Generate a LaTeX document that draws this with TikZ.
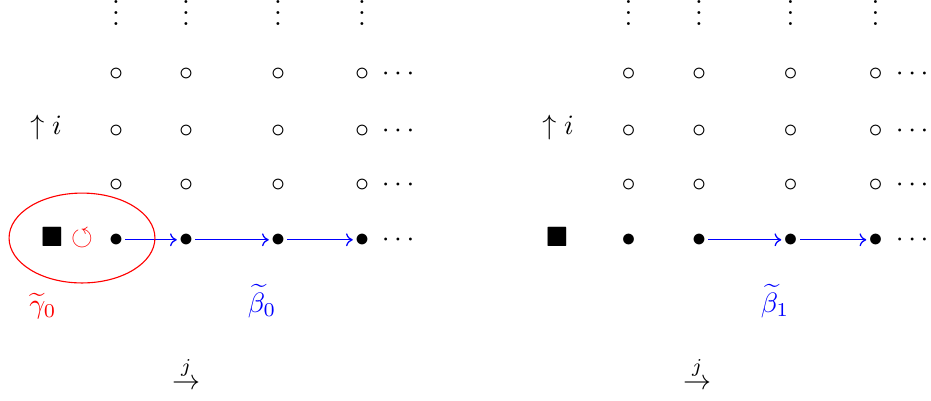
\documentclass[tikz,border=0pt]{standalone}
\usepackage{amsmath,amssymb}
\usetikzlibrary{shapes.geometric,arrows.meta}
\begin{document}
\begin{tikzpicture}[x=0.35714pt,y=-0.35714pt,
  ax/.style={anchor=base,yshift=-2.5pt,inner sep=0.6pt},
  vd/.style={anchor=base,inner sep=0pt},
  lbl/.style={inner sep=0pt},
  arr/.style={blue,-{To[length=2.4pt,width=4.6pt]},line width=0.45pt}]
\useasboundingbox (0,0) rectangle (931,400);
% ---------- left panel ----------
\foreach \c/\x in {1/116,2/186,3/278,4/362}{
  \node[vd] (L-v\c) at (\x,25.8) {$\vdots$};
  \foreach \r/\y in {1/73,2/130,3/184}
    \node[ax] (L-\r-\c) at (\x,\y) {$\circ$};
}
\foreach \r/\y in {1/73,2/130,3/184}
  \node[ax] (L-\r-d) at (400.5,\y) {$\cdots$};
\node[lbl,anchor=base] (L-i) at (46,134) {$\uparrow i$};
\node[lbl] (L-sq) at (52,237) {$\blacksquare$};
\node[ax,red] (L-rot) at (82,238) {$\circlearrowleft$};
\node[ax] (L-b1) at (116,239) {$\bullet$};
\node[ax] (L-b2) at (186,239) {$\bullet$};
\node[ax] (L-b3) at (278,239) {$\bullet$};
\node[ax] (L-b4) at (362,239) {$\bullet$};
\node[ax] (L-bd) at (400.5,239) {$\cdots$};
\draw[arr] (L-b1) -- (L-b2);
\draw[arr] (L-b2) -- (L-b3);
\draw[arr] (L-b3) -- (L-b4);
\node[draw=red,ellipse,line width=0.4pt,inner sep=0pt,minimum width=52.1pt,minimum height=32.1pt] (L-ell) at (82,238) {};
\node[lbl,red] (L-gam) at (43,306) {$\widetilde{\gamma}_0$};
\node[lbl,blue] (L-beta) at (262,301) {$\widetilde{\beta}_0$};
\node[lbl,anchor=base] (L-j) at (186,389.7) {$\overset{j}{\rightarrow}$};
% ---------- right panel ----------
\foreach \c/\x in {1/628.5,2/699,3/790.5,4/875.5}{
  \node[vd] (R-v\c) at (\x,25.8) {$\vdots$};
  \foreach \r/\y in {1/73,2/130,3/184}
    \node[ax] (R-\r-\c) at (\x,\y) {$\circ$};
}
\foreach \r/\y in {1/73,2/130,3/184}
  \node[ax] (R-\r-d) at (914.5,\y) {$\cdots$};
\node[lbl,anchor=base] (R-i) at (558,134) {$\uparrow i$};
\node[lbl] (R-sq) at (557,237) {$\blacksquare$};
\node[ax] (R-b1) at (628.5,239) {$\bullet$};
\node[ax] (R-b2) at (699,239) {$\bullet$};
\node[ax] (R-b3) at (790.5,239) {$\bullet$};
\node[ax] (R-b4) at (875.5,239) {$\bullet$};
\node[ax] (R-bd) at (914.5,239) {$\cdots$};
\draw[arr] (R-b2) -- (R-b3);
\draw[arr] (R-b3) -- (R-b4);
\node[lbl,blue] (R-beta) at (775,301) {$\widetilde{\beta}_1$};
\node[lbl,anchor=base] (R-j) at (697,389.7) {$\overset{j}{\rightarrow}$};
\end{tikzpicture}
\end{document}
